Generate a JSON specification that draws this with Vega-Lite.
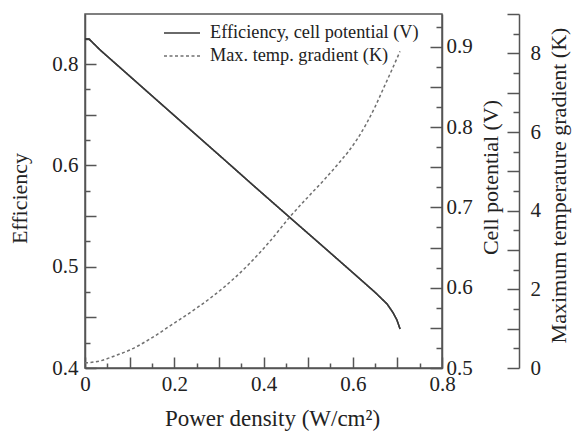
{
  "$schema": "https://vega.github.io/schema/vega-lite/v6.json",
  "width": 357,
  "height": 354,
  "autosize": {"type": "none"},
  "padding": {"left": 85, "top": 14, "right": 137, "bottom": 67},
  "background": "white",
  "config": {
    "view": {"stroke": "#555", "strokeWidth": 1.5},
    "font": "Liberation Serif",
    "axis": {
      "labelFont": "Liberation Serif", "titleFont": "Liberation Serif",
      "labelFontSize": 21, "titleFontSize": 22, "titleFontWeight": "normal",
      "labelColor": "#222", "titleColor": "#222",
      "domainColor": "#555", "tickColor": "#555", "domainWidth": 1.5, "tickWidth": 1.5,
      "grid": false, "labelFlush": false, "labelOverlap": false
    }
  },
  "datasets": {
    "curves": [
      {"series": "Efficiency, cell potential (V)", "P": 0.0, "eff": 0.7248, "V": 0.9097},
      {"series": "Efficiency, cell potential (V)", "P": 0.009, "eff": 0.7248, "V": 0.9097},
      {"series": "Efficiency, cell potential (V)", "P": 0.034, "eff": 0.7139, "V": 0.8960},
      {"series": "Efficiency, cell potential (V)", "P": 0.206, "eff": 0.6469, "V": 0.8115},
      {"series": "Efficiency, cell potential (V)", "P": 0.318, "eff": 0.6034, "V": 0.7565},
      {"series": "Efficiency, cell potential (V)", "P": 0.376, "eff": 0.5807, "V": 0.7279},
      {"series": "Efficiency, cell potential (V)", "P": 0.459, "eff": 0.5486, "V": 0.6874},
      {"series": "Efficiency, cell potential (V)", "P": 0.538, "eff": 0.5182, "V": 0.6491},
      {"series": "Efficiency, cell potential (V)", "P": 0.601, "eff": 0.4938, "V": 0.6183},
      {"series": "Efficiency, cell potential (V)", "P": 0.650, "eff": 0.4747, "V": 0.5943},
      {"series": "Efficiency, cell potential (V)", "P": 0.677, "eff": 0.4632, "V": 0.5797},
      {"series": "Efficiency, cell potential (V)", "P": 0.690, "eff": 0.4548, "V": 0.5691},
      {"series": "Efficiency, cell potential (V)", "P": 0.699, "eff": 0.4474, "V": 0.5598},
      {"series": "Efficiency, cell potential (V)", "P": 0.706, "eff": 0.4385, "V": 0.5486},
      {"series": "Max. temp. gradient (K)", "P": 0.0, "T": 0.13},
      {"series": "Max. temp. gradient (K)", "P": 0.034, "T": 0.18},
      {"series": "Max. temp. gradient (K)", "P": 0.067, "T": 0.31},
      {"series": "Max. temp. gradient (K)", "P": 0.101, "T": 0.46},
      {"series": "Max. temp. gradient (K)", "P": 0.146, "T": 0.74},
      {"series": "Max. temp. gradient (K)", "P": 0.197, "T": 1.12},
      {"series": "Max. temp. gradient (K)", "P": 0.251, "T": 1.53},
      {"series": "Max. temp. gradient (K)", "P": 0.309, "T": 2.03},
      {"series": "Max. temp. gradient (K)", "P": 0.363, "T": 2.59},
      {"series": "Max. temp. gradient (K)", "P": 0.415, "T": 3.23},
      {"series": "Max. temp. gradient (K)", "P": 0.459, "T": 3.84},
      {"series": "Max. temp. gradient (K)", "P": 0.504, "T": 4.40},
      {"series": "Max. temp. gradient (K)", "P": 0.538, "T": 4.81},
      {"series": "Max. temp. gradient (K)", "P": 0.571, "T": 5.24},
      {"series": "Max. temp. gradient (K)", "P": 0.590, "T": 5.50},
      {"series": "Max. temp. gradient (K)", "P": 0.610, "T": 5.82},
      {"series": "Max. temp. gradient (K)", "P": 0.630, "T": 6.20},
      {"series": "Max. temp. gradient (K)", "P": 0.650, "T": 6.64},
      {"series": "Max. temp. gradient (K)", "P": 0.670, "T": 7.14},
      {"series": "Max. temp. gradient (K)", "P": 0.690, "T": 7.64},
      {"series": "Max. temp. gradient (K)", "P": 0.706, "T": 8.05}
    ]
  },
  "data": {"name": "curves"},
  "encoding": {
    "x": {
      "field": "P", "type": "quantitative",
      "scale": {"domain": [0, 0.8], "nice": false, "zero": false},
      "axis": {
        "values": [0, 0.05, 0.1, 0.15, 0.2, 0.25, 0.3, 0.35, 0.4, 0.45, 0.5, 0.55, 0.6, 0.65, 0.7, 0.75, 0.8],
        "tickSize": {"condition": {"test": "abs(datum.value*10 - round(datum.value*10)) < 1e-6", "value": -11}, "value": -5},
        "labelExpr": "abs(datum.value*5 - round(datum.value*5)) < 1e-6 ? format(datum.value, '.1~f') : ''",
        "labelPadding": 16,
        "title": "Power density (W/cm²)",
        "titleFontSize": 23,
        "titleX": 187, "titleY": 50, "titleBaseline": "middle", "titleAlign": "center"
      }
    },
    "color": {
      "field": "series", "type": "nominal",
      "scale": {"domain": ["Efficiency, cell potential (V)", "Max. temp. gradient (K)"], "range": ["#3a3a3a", "#707070"]},
      "legend": {
        "orient": "none", "legendX": 84, "legendY": 6, "title": null,
        "symbolType": "M-1.5,0H1.5", "symbolSize": 576, "symbolStrokeWidth": 1.5,
        "labelFont": "Liberation Serif", "labelFontSize": 18.3, "labelColor": "#222",
        "labelOffset": 15, "rowPadding": 1, "labelLimit": 400
      }
    },
    "strokeDash": {
      "field": "series", "type": "nominal",
      "scale": {"domain": ["Efficiency, cell potential (V)", "Max. temp. gradient (K)"], "range": [[1, 0], [3, 2.5]]},
      "legend": {
        "orient": "none", "legendX": 84, "legendY": 6, "title": null,
        "symbolType": "M-1.5,0H1.5", "symbolSize": 576, "symbolStrokeWidth": 1.5,
        "labelFont": "Liberation Serif", "labelFontSize": 18.3, "labelColor": "#222",
        "labelOffset": 15, "rowPadding": 1, "labelLimit": 400
      }
    }
  },
  "layer": [
    {
      "transform": [{"filter": "datum.series == 'Efficiency, cell potential (V)'"}],
      "mark": {"type": "line", "strokeWidth": 1.5},
      "encoding": {
        "y": {
          "field": "eff", "type": "quantitative",
          "scale": {"domain": [0.4, 0.7495], "nice": false, "zero": false},
          "axis": {
            "orient": "left",
            "values": [0.4, 0.425, 0.45, 0.475, 0.5, 0.525, 0.55, 0.575, 0.6, 0.625, 0.65, 0.675, 0.7, 0.725],
            "tickSize": {"condition": {"test": "abs(datum.value*20 - round(datum.value*20)) < 1e-6", "value": -11}, "value": -5},
            "labelExpr": "datum.value == 0.4 ? '0.4' : datum.value == 0.5 ? '0.5' : datum.value == 0.6 ? '0.6' : datum.value == 0.7 ? '0.8' : ''",
            "labelPadding": 18,
            "title": "Efficiency",
            "titleX": -66, "titleY": 184, "titleAngle": 270, "titleBaseline": "middle", "titleAlign": "center"
          }
        }
      }
    },
    {
      "transform": [{"filter": "datum.series == 'Efficiency, cell potential (V)'"}],
      "mark": {"type": "line", "strokeWidth": 1.5},
      "encoding": {
        "y": {
          "field": "V", "type": "quantitative",
          "scale": {"domain": [0.5, 0.9408], "nice": false, "zero": false},
          "axis": {
            "orient": "right",
            "values": [0.5, 0.525, 0.55, 0.575, 0.6, 0.625, 0.65, 0.675, 0.7, 0.725, 0.75, 0.775, 0.8, 0.825, 0.85, 0.875, 0.9, 0.925],
            "tickSize": {"condition": {"test": "abs(datum.value*20 - round(datum.value*20)) < 1e-6", "value": -12}, "value": -6},
            "labelExpr": "abs(datum.value*10 - round(datum.value*10)) < 1e-6 ? format(datum.value, '.1f') : ''",
            "labelPadding": 16,
            "title": "Cell potential (V)",
            "titleX": 48, "titleY": 163, "titleAngle": 270, "titleBaseline": "middle", "titleAlign": "center"
          }
        }
      }
    },
    {
      "transform": [{"filter": "datum.series == 'Max. temp. gradient (K)'"}],
      "mark": {"type": "line", "strokeWidth": 1.5, "interpolate": "monotone"},
      "encoding": {
        "y": {
          "field": "T", "type": "quantitative",
          "scale": {"domain": [0, 9], "nice": false, "zero": false},
          "axis": {
            "orient": "right", "offset": 77,
            "values": [0, 0.5, 1, 1.5, 2, 2.5, 3, 3.5, 4, 4.5, 5, 5.5, 6, 6.5, 7, 7.5, 8, 8.5, 9],
            "tickSize": {"condition": {"test": "abs(datum.value - round(datum.value)) < 1e-6", "value": -12}, "value": -6},
            "labelExpr": "abs(datum.value/2 - round(datum.value/2)) < 1e-6 && datum.value < 9 ? format(datum.value, 'd') : ''",
            "labelPadding": 23,
            "title": "Maximum temperature gradient (K)",
            "titleX": 39, "titleY": 171, "titleAngle": 270, "titleBaseline": "middle", "titleAlign": "center"
          }
        }
      }
    }
  ],
  "resolve": {"scale": {"y": "independent"}, "axis": {"y": "independent"}}
}
